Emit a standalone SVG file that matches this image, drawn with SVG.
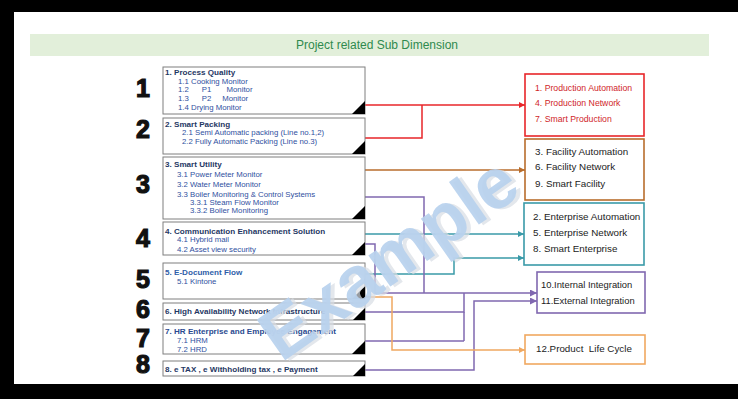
<svg xmlns="http://www.w3.org/2000/svg" width="738" height="399" viewBox="0 0 738 399">
<defs>
<style>
.frame{fill:#000}
.bg{fill:#fff}
.banner{fill:#e2efda}
.title{font-family:"Liberation Sans",Arial,sans-serif;font-size:12px;fill:#2f8a4e;text-anchor:middle}
.num{font-family:"Liberation Sans",Arial,sans-serif;font-size:25px;font-weight:900;fill:#111;text-anchor:middle;stroke:#111;stroke-width:1.2}
.box{fill:#fff;stroke:#7f7f7f;stroke-width:1}
.tri{fill:#000}
.bt{font-family:"Liberation Sans",Arial,sans-serif;font-size:8.1px;font-weight:bold;fill:#1f3864}
.it{font-family:"Liberation Sans",Arial,sans-serif;font-size:7.8px;fill:#2f50a0}
.rb{fill:#fff;stroke-width:1.6}
.rt{font-family:"Liberation Sans",Arial,sans-serif;font-size:9.8px;fill:#222}
.red{stroke:#e8262a}
.brn{stroke:#b86d2c}
.tea{stroke:#3a9aa8}
.pur{stroke:#8068b0}
.org{stroke:#f0a860}
.ln{fill:none;stroke-width:1.5}
.wm{font-family:"Liberation Sans",Arial,sans-serif;font-size:72px;font-weight:bold;fill:#b9d2ee;opacity:0.93}
.wms{font-family:"Liberation Sans",Arial,sans-serif;font-size:72px;font-weight:bold;fill:#d8dde4;opacity:0.7}
</style>
<marker id="aR" viewBox="0 0 8 8" refX="8" refY="4" markerWidth="6" markerHeight="6" orient="auto" markerUnits="userSpaceOnUse"><path d="M0,0L8,4L0,8z" fill="#e8262a"/></marker>
<marker id="aB" viewBox="0 0 8 8" refX="8" refY="4" markerWidth="6" markerHeight="6" orient="auto" markerUnits="userSpaceOnUse"><path d="M0,0L8,4L0,8z" fill="#b86d2c"/></marker>
<marker id="aT" viewBox="0 0 8 8" refX="8" refY="4" markerWidth="6" markerHeight="6" orient="auto" markerUnits="userSpaceOnUse"><path d="M0,0L8,4L0,8z" fill="#3a9aa8"/></marker>
<marker id="aP" viewBox="0 0 8 8" refX="8" refY="4" markerWidth="7" markerHeight="7" orient="auto" markerUnits="userSpaceOnUse"><path d="M0,0L8,4L0,8z" fill="#8068b0"/></marker>
<marker id="aO" viewBox="0 0 8 8" refX="8" refY="4" markerWidth="6" markerHeight="6" orient="auto" markerUnits="userSpaceOnUse"><path d="M0,0L8,4L0,8z" fill="#f0a860"/></marker>
</defs>
<rect class="frame" x="0" y="0" width="738" height="399"/>
<rect class="bg" x="14" y="12" width="724" height="372"/>
<g id="header">
<rect class="banner" x="30" y="34" width="679" height="22"/>
<text class="title" x="377" y="49">Project related Sub Dimension</text>
</g>
<g id="numbers">
<text class="num" x="143" y="97">1</text>
<text class="num" x="143" y="138">2</text>
<text class="num" x="143" y="193">3</text>
<text class="num" x="143" y="247">4</text>
<text class="num" x="143" y="288">5</text>
<text class="num" x="143" y="318">6</text>
<text class="num" x="143" y="347">7</text>
<text class="num" x="143" y="373">8</text>
</g>
<g id="connectors">
<path class="ln red" d="M365,105H525" marker-end="url(#aR)"/>
<path class="ln red" d="M365,138H422V105"/>
<path class="ln brn" d="M365,170H525" marker-end="url(#aB)"/>
<path class="ln tea" d="M365,234H524" marker-end="url(#aT)"/>
<path class="ln tea" d="M365,274H454V258H524" marker-end="url(#aT)"/>
<path class="ln pur" d="M365,197H424V293"/>
<path class="ln pur" d="M365,244H375V293H537" marker-end="url(#aP)"/>
<path class="ln pur" d="M365,312H464V293"/>
<path class="ln pur" d="M365,341H464"/>
<path class="ln pur" d="M464,312V341"/>
<path class="ln pur" d="M365,370H474V301H537" marker-end="url(#aP)"/>
<path class="ln org" d="M365,297H392V350H525" marker-end="url(#aO)"/>
</g>
<g id="n1">
<rect class="box" x="163" y="67" width="202" height="47"/>
<path class="tri" d="M365,101V114H352z"/>
<text class="bt" x="165" y="75">1. Process Quality</text>
<text class="it" x="178" y="84">1.1 Cooking  Monitor</text>
<text class="it" x="178" y="92" xml:space="preserve">1.2      P1       Monitor</text>
<text class="it" x="178" y="101" xml:space="preserve">1.3      P2     Monitor</text>
<text class="it" x="178" y="110">1.4 Drying Monitor</text>
</g>
<g id="n2">
<rect class="box" x="163" y="118" width="202" height="36"/>
<path class="tri" d="M365,141V154H352z"/>
<text class="bt" x="165" y="127">2. Smart Packing</text>
<text class="it" x="182" y="135">2.1 Semi Automatic packing (Line no.1,2)</text>
<text class="it" x="182" y="144">2.2 Fully Automatic Packing (Line no.3)</text>
</g>
<g id="n3">
<rect class="box" x="163" y="157" width="202" height="62"/>
<path class="tri" d="M365,206V219H352z"/>
<text class="bt" x="165" y="167">3. Smart Utility</text>
<text class="it" x="177" y="177">3.1 Power Meter Monitor</text>
<text class="it" x="177" y="187">3.2 Water Meter Monitor</text>
<text class="it" x="177" y="197">3.3 Boiler Monitoring &amp; Control Systems</text>
<text class="it" x="190" y="205">3.3.1 Steam Flow Monitor</text>
<text class="it" x="190" y="213">3.3.2 Boiler Monitoring</text>
</g>
<g id="n4">
<rect class="box" x="163" y="222" width="202" height="33"/>
<path class="tri" d="M365,242V255H352z"/>
<text class="bt" x="165" y="234">4. Communication Enhancement Solution</text>
<text class="it" x="177" y="242">4.1 Hybrid mail</text>
<text class="it" x="177" y="252">4.2 Asset view security</text>
</g>
<g id="n5">
<rect class="box" x="163" y="263" width="202" height="36"/>
<path class="tri" d="M365,286V299H352z"/>
<text class="bt" x="165" y="275" style="fill:#2e5ea8">5. E-Document Flow</text>
<text class="it" x="177" y="284">5.1 Kintone</text>
</g>
<g id="n6">
<rect class="box" x="163" y="303" width="202" height="17"/>
<path class="tri" d="M365,308V320H353z"/>
<text class="bt" x="165" y="314">6. High Availability Network Infrastructure</text>
</g>
<g id="n7">
<rect class="box" x="163" y="324" width="202" height="30"/>
<path class="tri" d="M365,341V354H352z"/>
<text class="bt" x="165" y="334" style="fill:#2a4a90">7. HR Enterprise and Employee Engagement</text>
<text class="it" x="177" y="343">7.1 HRM</text>
<text class="it" x="177" y="352">7.2 HRD</text>
</g>
<g id="n8">
<rect class="box" x="163" y="361" width="202" height="15"/>
<path class="tri" d="M365,364V376H353z"/>
<text class="bt" x="165" y="372">8. e TAX , e Withholding tax ,  e Payment</text>
</g>
<g id="r1">
<rect class="rb red" x="525" y="74" width="119" height="62"/>
<text class="rt" x="535" y="91" style="fill:#d0262a;font-size:8.7px">1. Production Automation</text>
<text class="rt" x="535" y="106" style="fill:#d0262a;font-size:8.7px">4. Production Network</text>
<text class="rt" x="535" y="122" style="fill:#d0262a;font-size:8.7px">7. Smart Production</text>
</g>
<g id="r2">
<rect class="rb brn" x="525" y="139" width="119" height="61"/>
<text class="rt" x="535" y="155">3. Facility Automation</text>
<text class="rt" x="535" y="170">6. Facility Network</text>
<text class="rt" x="535" y="187">9. Smart Facility</text>
</g>
<g id="r3">
<rect class="rb tea" x="524" y="203" width="120" height="62"/>
<text class="rt" x="533" y="220">2. Enterprise Automation</text>
<text class="rt" x="533" y="236">5. Enterprise Network</text>
<text class="rt" x="533" y="252">8. Smart Enterprise</text>
</g>
<g id="r4">
<rect class="rb pur" x="537" y="272" width="108" height="41"/>
<text class="rt" x="541" y="288" style="font-size:9.4px">10.Internal Integration</text>
<text class="rt" x="541" y="304" style="font-size:9.4px">11.External Integration</text>
</g>
<g id="r5">
<rect class="rb org" x="525" y="335" width="120" height="29"/>
<text class="rt" x="536" y="352" xml:space="preserve">12.Product  Life Cycle</text>
</g>
<g id="watermark" transform="rotate(-35 390 260)">
<text class="wms" x="393" y="285" text-anchor="middle">Example</text>
<text class="wm" x="390" y="282" text-anchor="middle">Example</text>
</g>
</svg>
